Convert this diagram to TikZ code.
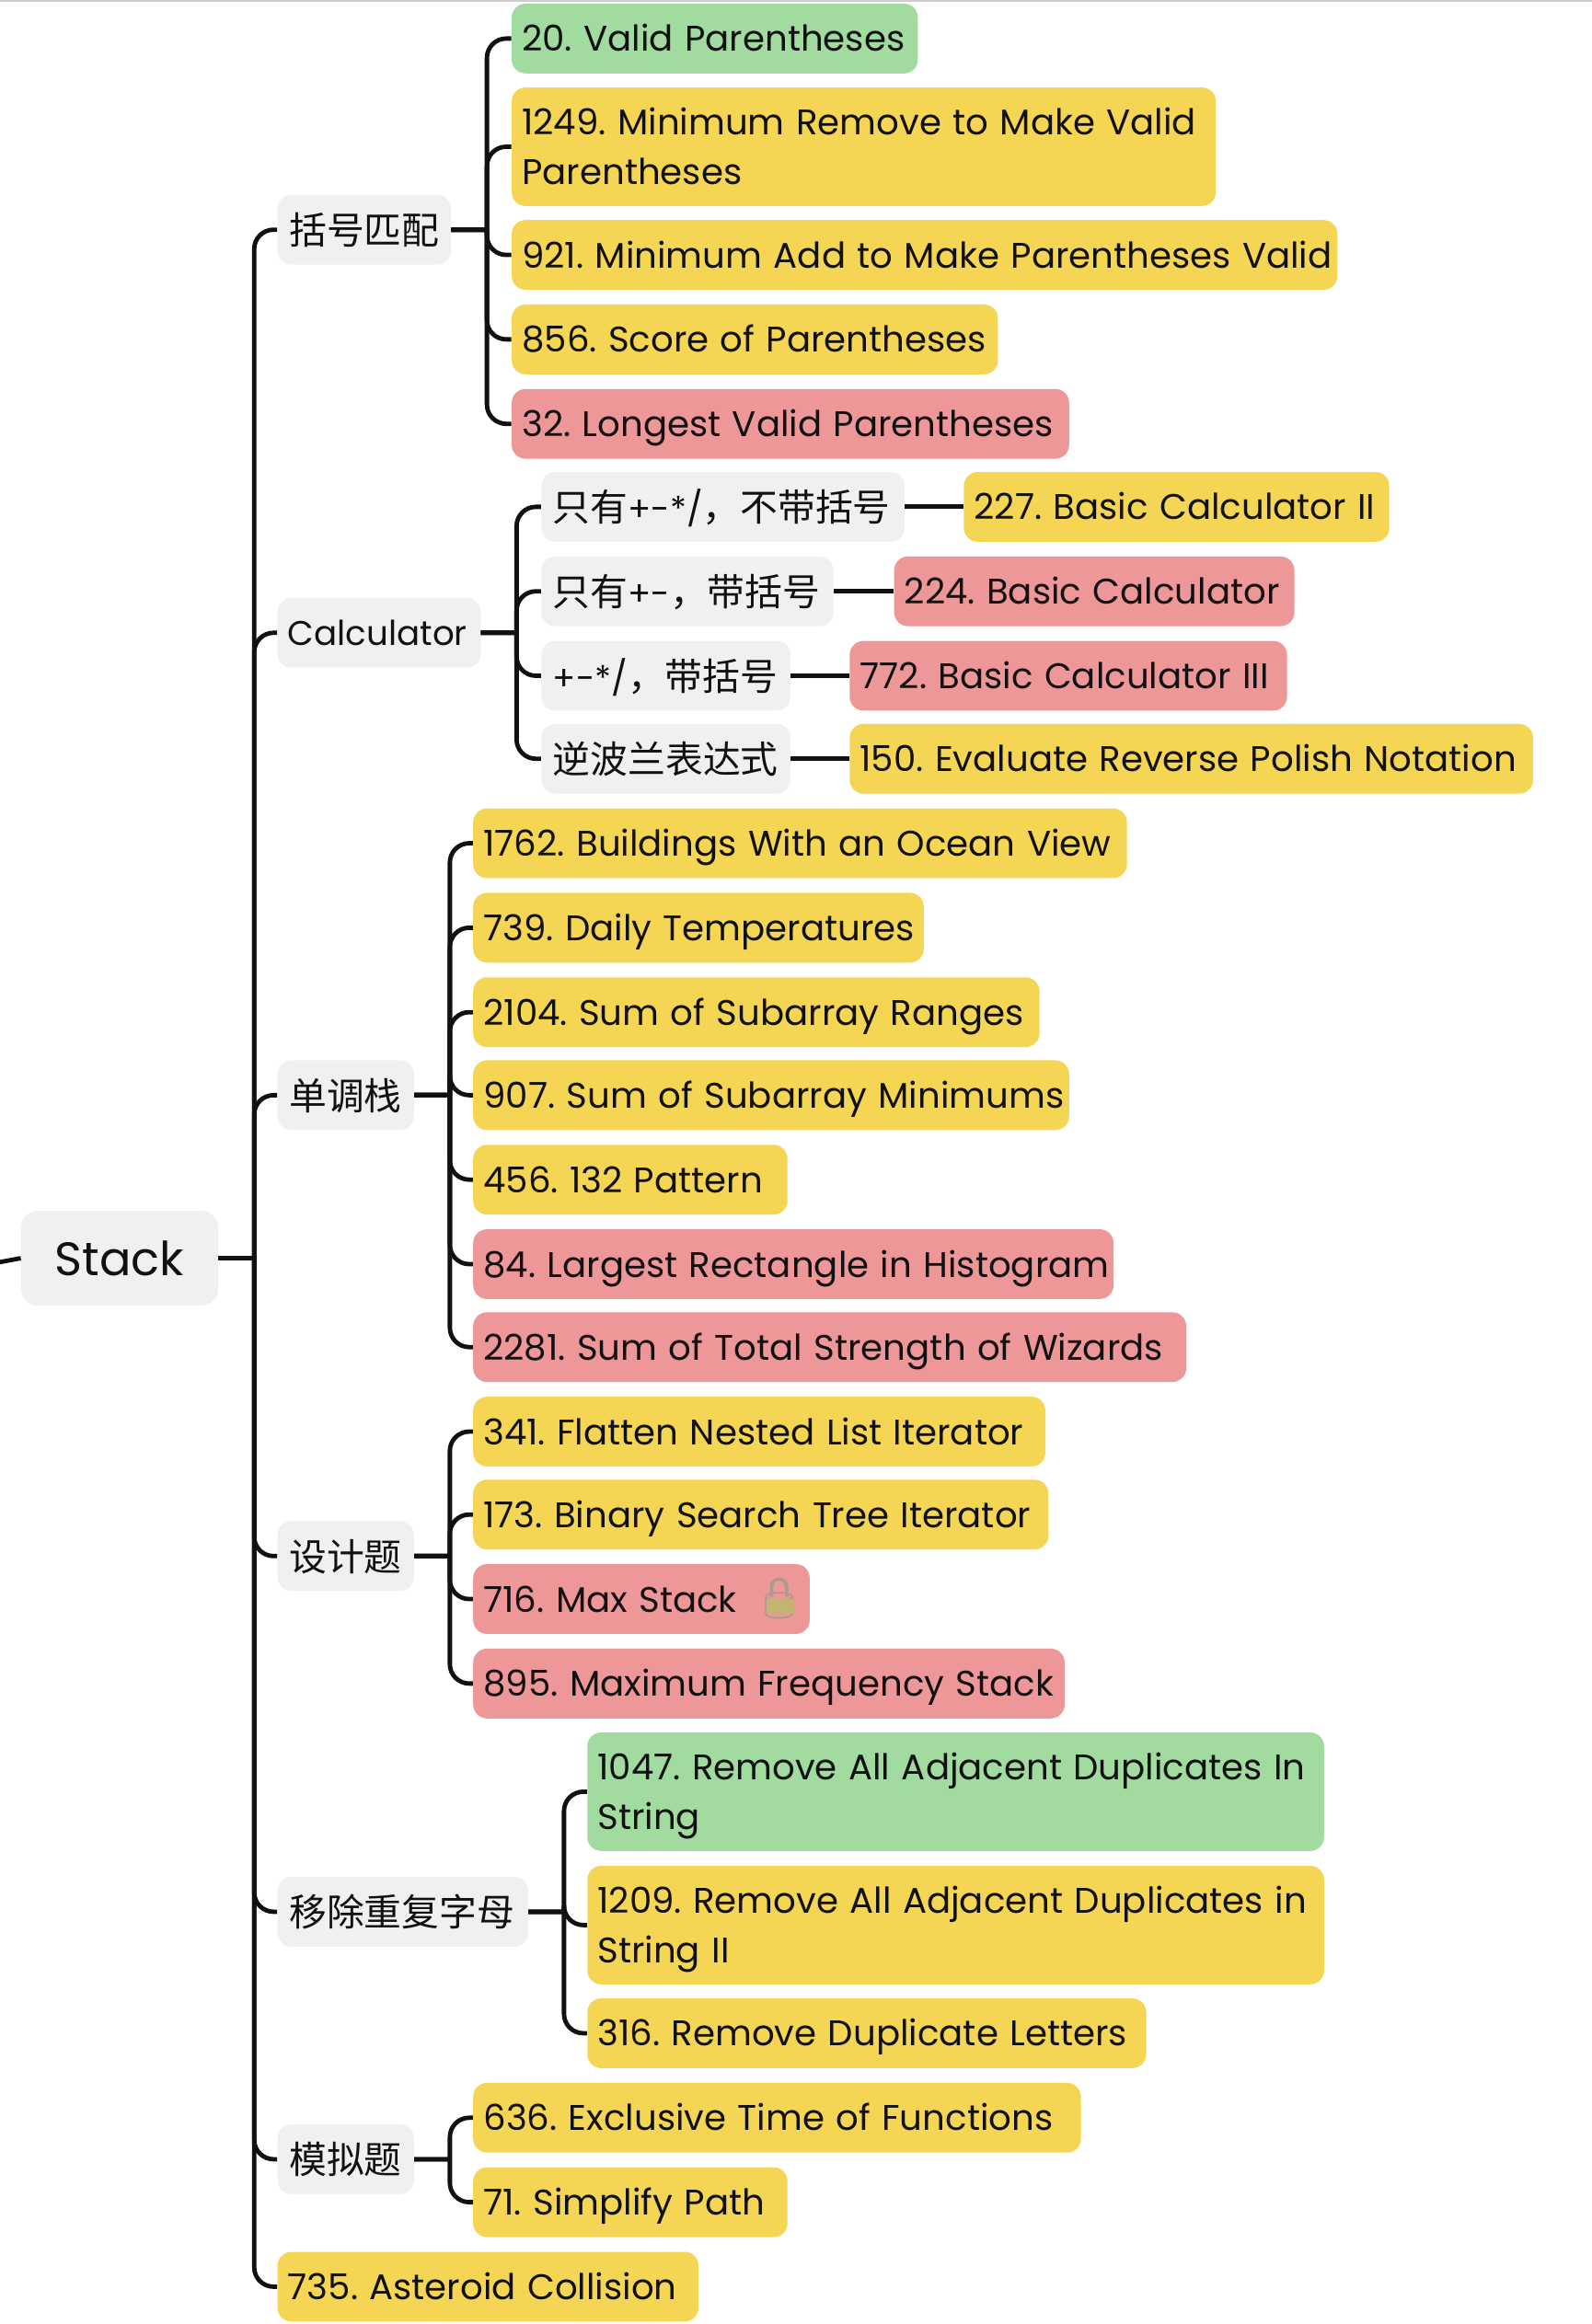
\documentclass[tikz,border=0pt]{standalone}
\usepackage{fontspec}
\setmainfont{Poppins}
\newfontfamily\cjk{Noto Sans CJK SC}
\newfontfamily\emojifont{Noto Emoji}
\usetikzlibrary{positioning}
\definecolor{easycol}{HTML}{A2DBA0}
\definecolor{medcol}{HTML}{F5D654}
\definecolor{hardcol}{HTML}{EE9799}
\definecolor{topiccol}{HTML}{F0F0F0}
\definecolor{inkcol}{HTML}{111111}
\definecolor{lockcol}{HTML}{C2B570}
\definecolor{shacklecol}{HTML}{A89C90}
\newcommand{\latin}[1]{{\normalfont\fontsize{18.5}{26.6}\selectfont #1}}
\tikzset{
    leaf/.style={
           anchor=west,
           rounded corners=7.5pt,
           inner xsep=0pt,
           inner ysep=0pt,
           minimum height=37.9pt,
           text height=14pt,
           text depth=0pt,
           align=flush left,
           execute at begin node={\leftskip=5.6pt\frenchspacing\spaceskip=6.2pt},
           text=inkcol,
           font=\fontsize{19.35}{26.6}\selectfont
           },
    wide/.style={
           text width=#1*0.8054pt
           },
    easy/.style={leaf, fill=easycol},
    med/.style={leaf, fill=medcol},
    hard/.style={leaf, fill=hardcol},
    topic/.style={leaf, fill=topiccol},
    zh/.style={
           topic,
           text height=16pt,
           execute at begin node={\leftskip=6.3pt},
           font=\cjk\fontsize{20.4}{26.6}\selectfont
           },
    twoline/.style={
           minimum height=64.4pt,
           text depth=26.6pt
           },
    root/.style={
           topic,
           rounded corners=9pt,
           minimum height=51.5pt,
           text height=19pt,
           execute at begin node={\leftskip=18.3pt},
           font=\fontsize{25.5}{30}\selectfont
           },
    link/.style={
           draw=inkcol,
           line width=2.4pt
           },
    elbow/.style={
           to path={-- ++(24,0) ++(0,0) [rounded corners=10.5pt] |- (\tikztotarget)}
           }
}

\begin{document}
\begin{tikzpicture}[x=0.8054pt,y=-0.8054pt]
   \useasboundingbox (0,0) rectangle (1074,1568.2);
   \fill[black!20] (0,0) rectangle (1074,1.2);

   \node[root,wide=133] (stack) at (14,849) {Stack};
   \coordinate (offpage) at (-2,852);

   \node[zh,wide=117] (brackets) at (187,155) {括号匹配};
   \node[topic,wide=137,font=\fontsize{18.6}{26.6}\selectfont] (calc) at (187,427) {Calculator};
   \node[zh,wide=92] (mono) at (187,739) {单调栈};
   \node[zh,wide=92] (design) at (187,1050) {设计题};
   \node[zh,wide=169] (dedup) at (187,1290) {移除重复字母};
   \node[zh,wide=92] (simu) at (187,1457) {模拟题};
   \node[med,wide=284] (p735) at (187,1543) {735. Asteroid Collision};

   \node[easy,wide=274] (p20) at (345,26) {20. Valid Parentheses};
   \node[med,twoline,wide=475] (p1249) at (345,99) {1249. Minimum Remove to Make Valid\\Parentheses};
   \node[med,wide=557] (p921) at (345,172) {921. Minimum Add to Make Parentheses Valid};
   \node[med,wide=328] (p856) at (345,229) {856. Score of Parentheses};
   \node[hard,wide=376] (p32) at (345,286) {32. Longest Valid Parentheses};

   \node[zh,wide=245] (ops1) at (365,342) {只有\latin{+-*/}，不带括号};
   \node[zh,wide=197] (ops2) at (365,399) {只有\latin{+-}，带括号};
   \node[zh,wide=168] (ops3) at (365,456) {\latin{+-*/}，带括号};
   \node[zh,wide=168] (ops4) at (365,512) {逆波兰表达式};
   \node[med,wide=287] (p227) at (650,342) {227. Basic Calculator II};
   \node[hard,wide=270] (p224) at (603,399) {224. Basic Calculator};
   \node[hard,wide=295] (p772) at (573,456) {772. Basic Calculator III};
   \node[med,wide=461] (p150) at (573,512) {150. Evaluate Reverse Polish Notation};

   \node[med,wide=441] (p1762) at (319,569) {1762. Buildings With an Ocean View};
   \node[med,wide=304] (p739) at (319,626) {739. Daily Temperatures};
   \node[med,wide=382] (p2104) at (319,683) {2104. Sum of Subarray Ranges};
   \node[med,wide=402] (p907) at (319,739) {907. Sum of Subarray Minimums};
   \node[med,wide=212] (p456) at (319,796) {456. 132 Pattern};
   \node[hard,wide=432] (p84) at (319,853) {84. Largest Rectangle in Histogram};
   \node[hard,wide=481] (p2281) at (319,909) {2281. Sum of Total Strength of Wizards};

   \node[med,wide=386] (p341) at (319,966) {341. Flatten Nested List Iterator};
   \node[med,wide=388] (p173) at (319,1022) {173. Binary Search Tree Iterator};
   \node[hard,wide=227] (p716) at (319,1079) {716. Max Stack\hspace{9pt}{\emojifont\fontsize{22}{26.6}\selectfont\textcolor{shacklecol}{🔒}}};
   \fill[lockcol,rounded corners=0.8pt] (517,1079) rectangle (535.5,1089);
   \node[hard,wide=399] (p895) at (319,1136) {895. Maximum Frequency Stack};

   \node[easy,twoline,wide=497] (p1047) at (396,1209) {1047. Remove All Adjacent Duplicates In\\String};
   \node[med,twoline,wide=497] (p1209) at (396,1299) {1209. Remove All Adjacent Duplicates in\\String II};
   \node[med,wide=377] (p316) at (396,1372) {316. Remove Duplicate Letters};

   \node[med,wide=410] (p636) at (319,1429) {636. Exclusive Time of Functions};
   \node[med,wide=212] (p71) at (319,1486) {71. Simplify Path};

   \path[link]
    (offpage) edge (stack.west)
    (stack.east) edge[elbow] (brackets.west)
    (stack.east) edge[elbow] (calc.west)
    (stack.east) edge[elbow] (mono.west)
    (stack.east) edge[elbow] (design.west)
    (stack.east) edge[elbow] (dedup.west)
    (stack.east) edge[elbow] (simu.west)
    (stack.east) edge[elbow] (p735.west)
    (brackets.east) edge[elbow] (p20.west)
    (brackets.east) edge[elbow] (p1249.west)
    (brackets.east) edge[elbow] (p921.west)
    (brackets.east) edge[elbow] (p856.west)
    (brackets.east) edge[elbow] (p32.west)
    (calc.east) edge[elbow] (ops1.west)
    (calc.east) edge[elbow] (ops2.west)
    (calc.east) edge[elbow] (ops3.west)
    (calc.east) edge[elbow] (ops4.west)
    (ops1.east) edge (p227.west)
    (ops2.east) edge (p224.west)
    (ops3.east) edge (p772.west)
    (ops4.east) edge (p150.west)
    (mono.east) edge[elbow] (p1762.west)
    (mono.east) edge[elbow] (p739.west)
    (mono.east) edge[elbow] (p2104.west)
    (mono.east) edge[elbow] (p907.west)
    (mono.east) edge[elbow] (p456.west)
    (mono.east) edge[elbow] (p84.west)
    (mono.east) edge[elbow] (p2281.west)
    (design.east) edge[elbow] (p341.west)
    (design.east) edge[elbow] (p173.west)
    (design.east) edge[elbow] (p716.west)
    (design.east) edge[elbow] (p895.west)
    (dedup.east) edge[elbow] (p1047.west)
    (dedup.east) edge[elbow] (p1209.west)
    (dedup.east) edge[elbow] (p316.west)
    (simu.east) edge[elbow] (p636.west)
    (simu.east) edge[elbow] (p71.west)
    ;
\end{tikzpicture}
\end{document}
